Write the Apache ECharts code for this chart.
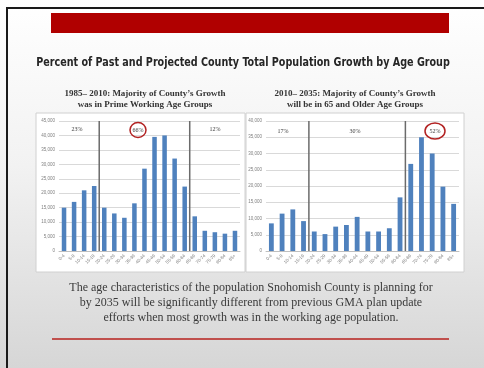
<!DOCTYPE html>
<html><head><meta charset="utf-8">
<script src="https://cdn.jsdelivr.net/npm/echarts@6/dist/echarts.min.js"></script>
<style>html,body{margin:0;padding:0;background:#fff}#c{width:484px;height:368px}</style>
</head><body><div id="c"></div>
<script>
var categories = ['0-4','5-9','10-14','15-19','20-24','25-29','30-34','35-39','40-44','45-49','50-54','55-59','60-64','65-69','70-74','75-79','80-84','85+'];
var growth1985_2010 = [15000,17000,21000,22500,15000,13000,11500,16500,28500,39500,40000,32000,22300,12000,7000,6500,6000,7000];
var growth2010_2035 = [8500,11500,12800,9200,6000,5200,7500,8000,10500,6000,6000,7000,16500,26800,35000,30000,19800,14500];
var groupBreaks = [4, 13];
var shares1985_2010 = ['23%','66%','12%'];
var shares2010_2035 = ['17%','30%','52%'];
var yMax1 = 45000, yMax2 = 40000, yStep = 5000;

var chart = echarts.init(document.getElementById('c'));
var serif = '"Liberation Serif","Times New Roman",serif';
function breakSeries(xIdx, yIdx, ymax){
  return groupBreaks.map(function(b){
    return {type:'line', xAxisIndex:xIdx, yAxisIndex:yIdx, data:[[b,0],[b,ymax]], symbol:'none',
      lineStyle:{color:'#6b6b6b', width:1.5}, silent:true, z:5, animation:false};
  });
}
function yAxisDef(grid, max){
  return {type:'value', gridIndex:grid, min:0, max:max, interval:yStep,
    axisLine:{show:false}, axisTick:{show:false},
    splitLine:{lineStyle:{color:'#d9d9d9', width:1}},
    axisLabel:{fontSize:4.5, color:'#7f7f7f', margin:4, fontFamily:'Liberation Sans',
      formatter:function(v){return v.toLocaleString('en-US');}}};
}
function xCatDef(grid){
  return {type:'category', gridIndex:grid, data:categories,
    axisLine:{lineStyle:{color:'#bfbfbf'}}, axisTick:{show:false},
    axisLabel:{fontSize:4.5, color:'#7f7f7f', rotate:45, interval:0, margin:4, fontFamily:'Liberation Sans'}};
}
function xValDef(grid){
  return {type:'value', gridIndex:grid, min:0, max:categories.length, show:false};
}
function annot(x, y, txt){
  return {type:'text', x:x, y:y, z:10, style:{text:txt, fill:'#404040', font:'6px '+serif, align:'center', verticalAlign:'middle'}};
}
function ring(cx, cy, rx, ry){
  return {type:'ellipse', shape:{cx:cx, cy:cy, rx:rx, ry:ry}, z:10, style:{fill:'none', stroke:'#b22222', lineWidth:1.5}};
}

var option = {
  animation:false,
  graphic:[
    {type:'rect', shape:{x:0,y:0,width:484,height:368}, z:-20,
      style:{fill:new echarts.graphic.LinearGradient(0,0,0,1,[{offset:0,color:'#ffffff'},{offset:0.45,color:'#f2f2f2'},{offset:1,color:'#d6d6d6'}])}},
    {type:'rect', shape:{x:51,y:13,width:398,height:20}, z:-19, style:{fill:'#b00000'}},
    {type:'line', shape:{x1:6,y1:8,x2:484,y2:8}, z:-19, style:{stroke:'#1a1a1a', lineWidth:2}},
    {type:'line', shape:{x1:7,y1:8,x2:7,y2:368}, z:-19, style:{stroke:'#1a1a1a', lineWidth:2}},
    {type:'rect', shape:{x:36,y:113,width:209,height:159}, z:-18, style:{fill:'#ffffff', stroke:'#d0d0d0', lineWidth:1}},
    {type:'rect', shape:{x:246,y:113,width:218,height:159}, z:-18, style:{fill:'#ffffff', stroke:'#d0d0d0', lineWidth:1}},
    {type:'line', shape:{x1:52,y1:339,x2:449,y2:339}, z:-18, style:{stroke:'#c0504d', lineWidth:2}},
    annot(77,129,shares1985_2010[0]), annot(138,130,shares1985_2010[1]), annot(215,129,shares1985_2010[2]),
    ring(138,130,8,7.5),
    annot(283,131,shares2010_2035[0]), annot(355,131,shares2010_2035[1]), annot(435,131,shares2010_2035[2]),
    ring(435,131,10,8),
    {type:'text', x:243, y:63, scaleX:0.82, z:10,
      style:{text:'Percent of Past and Projected County Total Population Growth by Age Group',
        fill:'#262626', font:'bold 13px "DejaVu Sans Condensed","DejaVu Sans",sans-serif', align:'center', verticalAlign:'middle'}},
    {type:'text', x:251, y:280, z:10, style:{text:'The age characteristics of the population Snohomish County is planning for\nby 2035 will be significantly different from previous GMA plan update\nefforts when most growth was in the working age population.',
      fill:'#3a3a3a', font:'12px '+serif, align:'center', lineHeight:15}}
  ],
  title:[
    {text:'{b|1985– 2010}: Majority of County\u2019s Growth\nwas in Prime Working Age Groups', left:145, top:88, padding:0, textAlign:'center',
      textStyle:{fontFamily:serif, fontSize:9, color:'#333', lineHeight:11, rich:{b:{fontFamily:serif, fontSize:9, fontWeight:'bold', color:'#333'}}}},
    {text:'{b|2010– 2035}: Majority of County\u2019s Growth\nwill be in 65 and Older Age Groups', left:355, top:88, padding:0, textAlign:'center',
      textStyle:{fontFamily:serif, fontSize:9, color:'#333', lineHeight:11, rich:{b:{fontFamily:serif, fontSize:9, fontWeight:'bold', color:'#333'}}}}
  ],
  grid:[
    {left:59, width:181, top:121, height:130},
    {left:266, width:193, top:121, height:130}
  ],
  xAxis:[xCatDef(0), xCatDef(1), xValDef(0), xValDef(1)],
  yAxis:[yAxisDef(0,yMax1), yAxisDef(1,yMax2)],
  series:[
    {type:'bar', xAxisIndex:0, yAxisIndex:0, data:growth1985_2010, barWidth:'45%', itemStyle:{color:'#4f81bd'}},
    {type:'bar', xAxisIndex:1, yAxisIndex:1, data:growth2010_2035, barWidth:'45%', itemStyle:{color:'#4f81bd'}}
  ].concat(breakSeries(2,0,yMax1)).concat(breakSeries(3,1,yMax2))
};
chart.setOption(option);
</script></body></html>
